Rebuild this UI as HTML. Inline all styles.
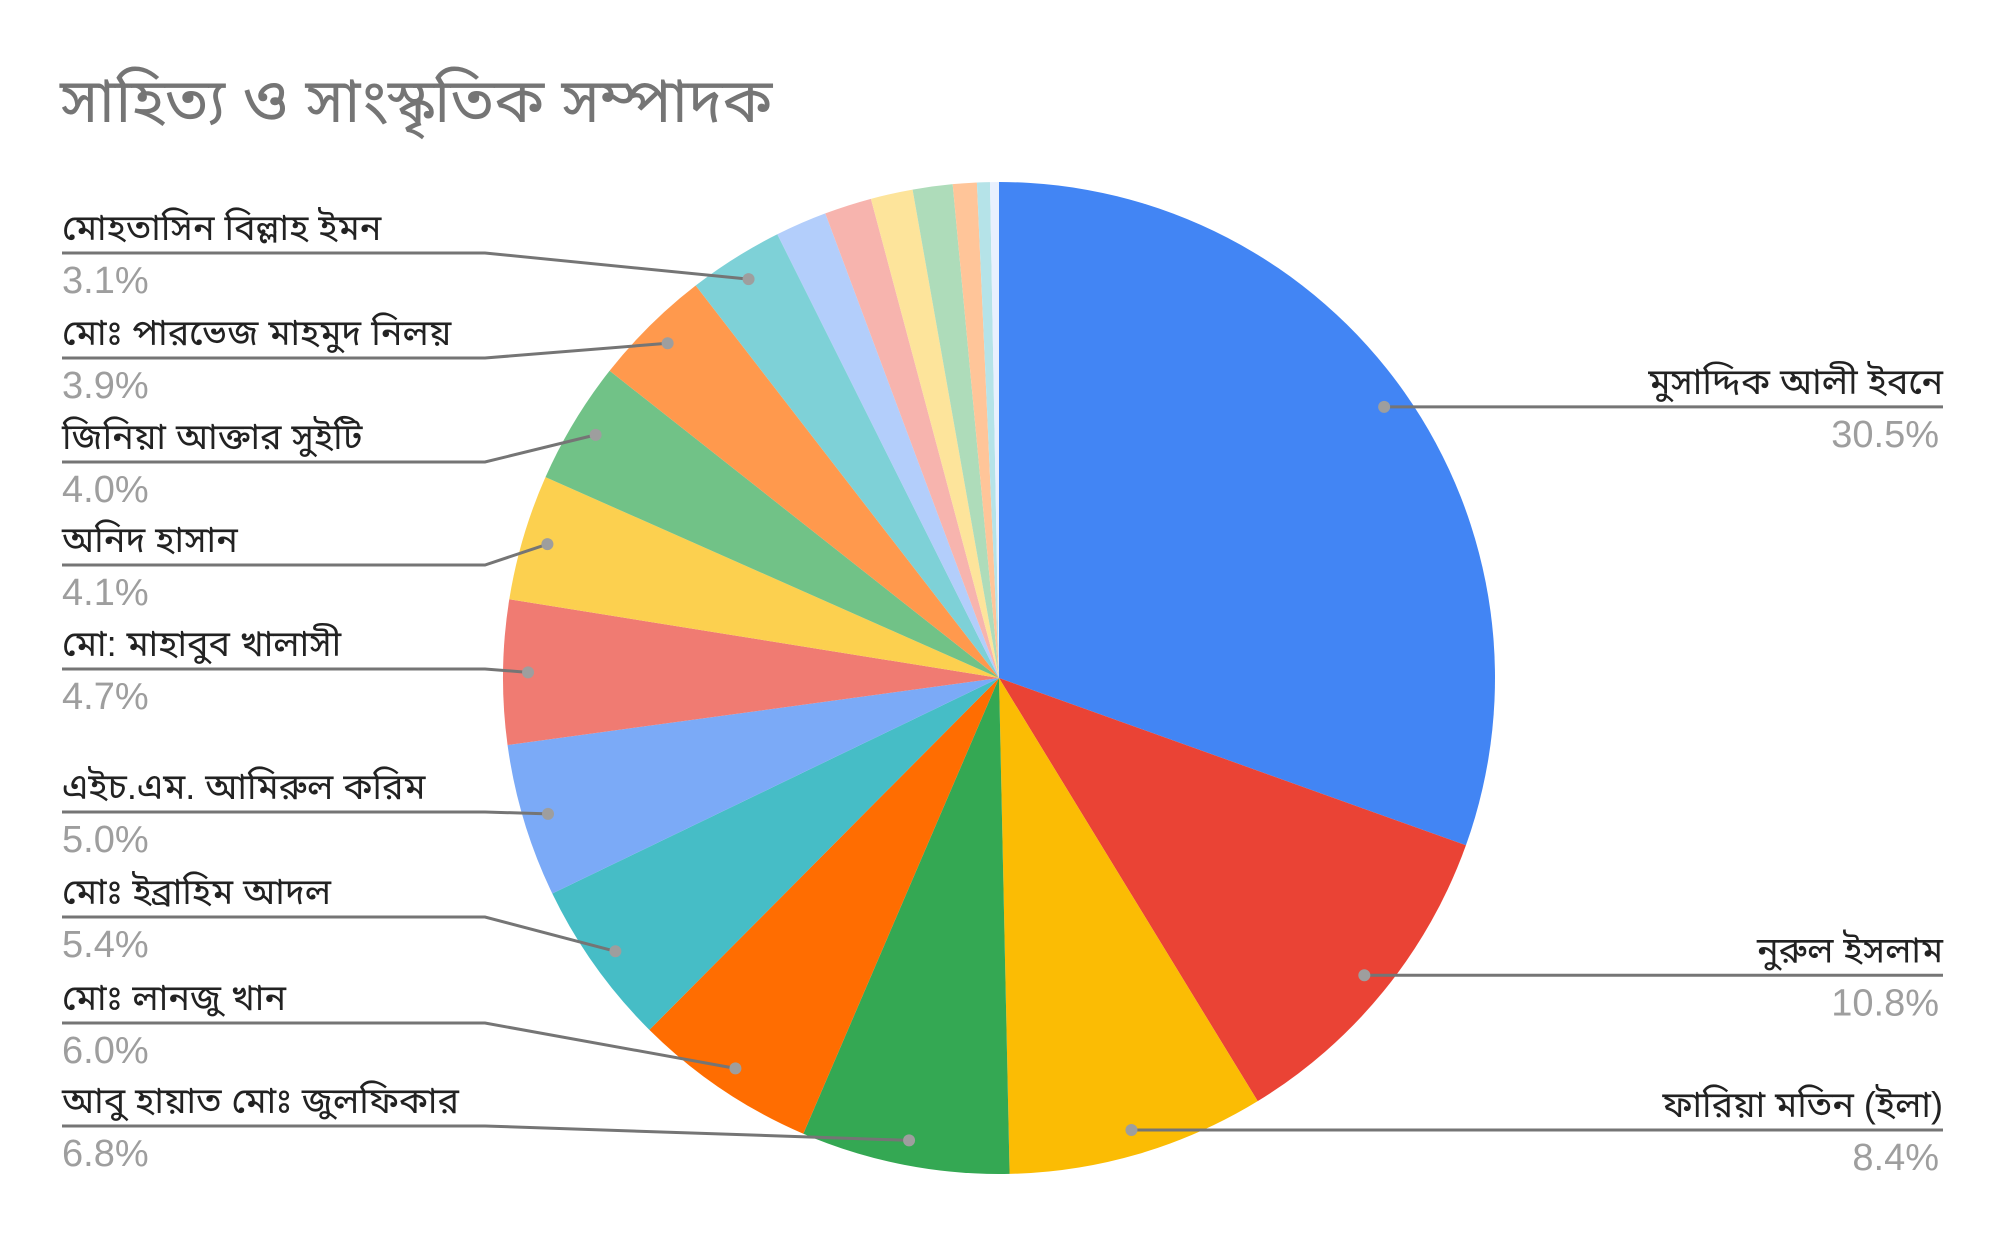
<!DOCTYPE html>
<html><head><meta charset="utf-8">
<style>
html,body{margin:0;padding:0;background:#fff;}
svg{display:block;}
.nm{font-family:"Liberation Sans","Noto Sans Bengali","Lohit Bengali",sans-serif;font-size:36px;fill:#222;}
.pc{font-family:"Liberation Sans",sans-serif;font-size:38px;fill:#9e9e9e;}
.tt{font-family:"Liberation Sans","Noto Sans Bengali","Lohit Bengali",sans-serif;font-size:62px;fill:#757575;}
</style></head>
<body>
<svg id="chart" width="2000" height="1237" viewBox="0 0 2000 1237">
<text class="tt" x="60" y="122">সাহিত্য ও সাংস্কৃতিক সম্পাদক</text>
<g id="slices"></g>
<g id="labels"></g>
</svg>
<script>
const names=["মুসাদ্দিক আলী ইবনে","নুরুল ইসলাম","ফারিয়া মতিন (ইলা)","আবু হায়াত মোঃ জুলফিকার","মোঃ লানজু খান","মোঃ ইব্রাহিম আদল","এইচ.এম. আমিরুল করিম","মো: মাহাবুব খালাসী","অনিদ হাসান","জিনিয়া আক্তার সুইটি","মোঃ পারভেজ মাহমুদ নিলয়","মোহতাসিন বিল্লাহ ইমন","অন্যান্য ১","অন্যান্য ২","অন্যান্য ৩","অন্যান্য ৪","অন্যান্য ৫","অন্যান্য ৬","অন্যান্য ৭"];
const values=[30.5,10.8,8.4,6.8,6.0,5.4,5.0,4.7,4.1,4.0,3.9,3.1,1.68,1.54,1.37,1.3,0.78,0.42,0.29];
const labelCount=12;
const colors=["#4285f4","#ea4335","#fbbc04","#34a853","#ff6d01","#46bdc6","#7baaf7","#f07b72","#fcd04f","#71c287","#ff994d","#7ed1d7","#b3cefb","#f7b4ae","#fde49b","#aedcba","#ffc599","#b5e3e8","#e8f0fe"];
const CX=999,CY=678,R=496,DR=471;
const NS="http://www.w3.org/2000/svg";
const total=values.reduce((a,b)=>a+b,0);
function pt(a,r){return [CX+r*Math.sin(a),CY-r*Math.cos(a)];}
const sg=document.getElementById('slices');
const lg=document.getElementById('labels');
let acc=0;const mids=[];
values.forEach((v,i)=>{
  const a0=acc/total*2*Math.PI;acc+=v;const a1=acc/total*2*Math.PI;
  mids.push((a0+a1)/2);
  const p0=pt(a0,R),p1=pt(a1,R);
  const large=(a1-a0)>Math.PI?1:0;
  const p=document.createElementNS(NS,'path');
  p.setAttribute('d',`M${CX},${CY}L${p0[0]},${p0[1]}A${R},${R} 0 ${large} 1 ${p1[0]},${p1[1]}Z`);
  p.setAttribute('fill',colors[i]);
  
  
  sg.appendChild(p);
});
const leftLineY=[1126,1023,917,812,669,565,462,358,253];
const rightLineY=[408,980,1126];
function mk(tag,attrs){const e=document.createElementNS(NS,tag);for(const k in attrs)e.setAttribute(k,attrs[k]);return e;}
for(let i=0;i<labelCount;i++){
  const d=pt(mids[i],DR);
  const g=mk('g',{});
  
  
  let pts,tx,anchor,ly;
  if(i<3){
    ly=rightLineY[i];tx=1943;anchor='end';
    if(Math.abs(d[1]-ly)<8){pts=`${d[0]},${d[1]} ${tx},${d[1]}`;ly=d[1];}
    else pts=`${d[0]},${d[1]} 1520,${ly} ${tx},${ly}`;
  } else {
    ly=leftLineY[i-3];tx=62;anchor='start';
    pts=`${d[0]},${d[1]} 485,${ly} ${tx},${ly}`;
  }
  const pl=mk('polyline',{points:pts,fill:'none',stroke:'#757575','stroke-width':3});
  
  
  g.appendChild(pl);
  const c=mk('circle',{cx:d[0],cy:d[1],r:6,fill:'#9e9e9e'});
  
  
  g.appendChild(c);
  const t1=mk('text',{x:tx,y:ly-13,'text-anchor':anchor,class:'nm'});
  t1.textContent=names[i];
  
  
  g.appendChild(t1);
  const t2=mk('text',{x:(i<3?tx-4:tx),y:ly+40,'text-anchor':anchor,class:'pc'});
  t2.textContent=values[i].toFixed(1)+'%';
  
  
  g.appendChild(t2);
  lg.appendChild(g);
}
</script>
</body></html>
